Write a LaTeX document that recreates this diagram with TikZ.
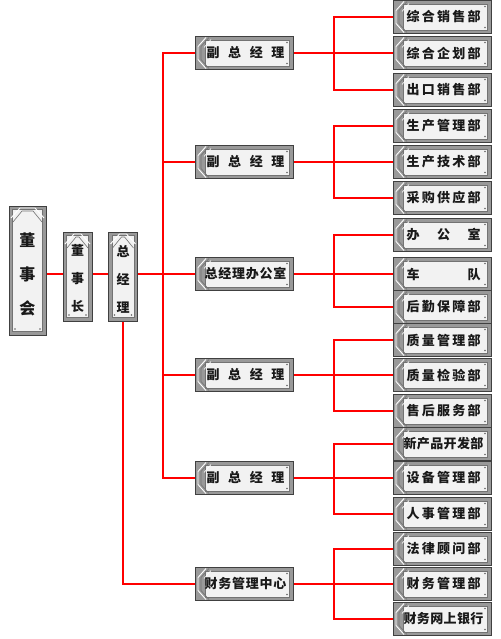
\documentclass[tikz,border=0pt]{standalone}
\usepackage{fontspec}
\newfontfamily\cjk{Noto Sans CJK SC}
\begin{document}
\begin{tikzpicture}[x=1pt,y=-1pt,
  conn/.style={draw=red, line width=2pt},
  plate/.style={draw=black!75, line width=1pt, fill=black!40, inner sep=0pt, text=black!90},
  hplate/.style={plate, minimum width=98pt, minimum height=33pt,
    font=\cjk\bfseries\fontsize{13}{14}\selectfont,
    path picture={
      \path (path picture bounding box.south west) coordinate (pa)
            (path picture bounding box.north east) coordinate (pb);
      \path (pa |- pb) coordinate (ptl) (pb |- pa) coordinate (pbr);
      \fill[black!5, draw=black!55, line width=0.6pt] ([shift={(10pt,3.5pt)}]pa) rectangle ([shift={(-3.5pt,-3.5pt)}]pb);
      \draw[white, line width=0.9pt] ([shift={(11pt,-1pt)}]ptl) -- ([shift={(3pt,-10pt)}]ptl) -- ([shift={(3pt,10pt)}]pa) -- ([shift={(11pt,1pt)}]pa);
      \draw[black!55, line width=0.6pt] ([shift={(14pt,-1pt)}]ptl) -- ([shift={(6pt,-10pt)}]ptl) -- ([shift={(6pt,10pt)}]pa) -- ([shift={(14pt,1pt)}]pa);
      \draw[white, line width=0.6pt] ([shift={(16pt,-3pt)}]ptl) -- ([shift={(9pt,-11pt)}]ptl);
      \fill[black!60] ([shift={(-6pt,-6pt)}]pb) circle (0.9pt);
      \fill[black!60] ([shift={(-6pt,6pt)}]pbr) circle (0.9pt);
    }},
  vplate/.style={plate,
    path picture={
      \path (path picture bounding box.south west) coordinate (pa)
            (path picture bounding box.north east) coordinate (pb);
      \path (pa |- pb) coordinate (ptl) (pb |- pa) coordinate (pbr);
      \fill[black!5, draw=black!55, line width=0.6pt] ([shift={(3.5pt,3.5pt)}]pa) rectangle ([shift={(-3.5pt,-3.5pt)}]pb);
      \draw[white, line width=0.9pt] ([shift={(2pt,-12pt)}]ptl) -- ([shift={(11pt,-2pt)}]ptl) -- ([shift={(-11pt,-2pt)}]pb) -- ([shift={(-2pt,-12pt)}]pb);
      \draw[black!55, line width=0.6pt] ([shift={(4pt,-16pt)}]ptl) -- ([shift={(13pt,-5pt)}]ptl) -- ([shift={(-13pt,-5pt)}]pb) -- ([shift={(-4pt,-16pt)}]pb);
      \fill[black!60] ([shift={(6pt,6pt)}]pa) circle (0.9pt);
      \fill[black!60] ([shift={(-6pt,6pt)}]pbr) circle (0.9pt);
    }}]
\fill[white] (0,0) rectangle (500,639);
\useasboundingbox (0,0) rectangle (500,639);

\coordinate (tx) at (163,0);
\coordinate (bx) at (334,0);

% vertical boxes
\node[vplate, minimum width=37pt, minimum height=129pt, align=center,
      font=\cjk\bfseries\fontsize{16}{34}\selectfont] (dsh) at (27.5,270.5) {\rule{0pt}{22pt}董\\事\\会};
\node[vplate, minimum width=29pt, minimum height=89pt, align=center,
      font=\cjk\bfseries\fontsize{13}{28}\selectfont] (dsz) at (77.5,276.5) {\rule{0pt}{16pt}董\\事\\长};
\node[vplate, minimum width=29pt, minimum height=89pt, align=center,
      font=\cjk\bfseries\fontsize{13}{28}\selectfont] (zjl) at (123,276.5) {\rule{0pt}{16pt}总\\经\\理};

% middle boxes
\node[hplate] (m1) at (244,53) {\hspace*{3pt}\makebox[78pt][s]{副\hfill 总\hfill 经\hfill 理}};
\node[hplate] (m2) at (244,162) {\hspace*{3pt}\makebox[78pt][s]{副\hfill 总\hfill 经\hfill 理}};
\node[hplate] (m3) at (244,274) {\hspace*{3pt}\makebox[82pt][s]{总\hfill 经\hfill 理\hfill 办\hfill 公\hfill 室}};
\node[hplate] (m4) at (244,375) {\hspace*{3pt}\makebox[78pt][s]{副\hfill 总\hfill 经\hfill 理}};
\node[hplate] (m5) at (244,478) {\hspace*{3pt}\makebox[78pt][s]{副\hfill 总\hfill 经\hfill 理}};
\node[hplate] (m6) at (244,584) {\hspace*{3pt}\makebox[82pt][s]{财\hfill 务\hfill 管\hfill 理\hfill 中\hfill 心}};

% right boxes
\node[hplate] (c11) at (442,17) {\hspace*{3pt}\makebox[74pt][s]{综\hfill 合\hfill 销\hfill 售\hfill 部}};
\node[hplate] (c12) at (442,53) {\hspace*{3pt}\makebox[74pt][s]{综\hfill 合\hfill 企\hfill 划\hfill 部}};
\node[hplate] (c13) at (442,90) {\hspace*{3pt}\makebox[74pt][s]{出\hfill 口\hfill 销\hfill 售\hfill 部}};

\node[hplate] (c21) at (442,126) {\hspace*{3pt}\makebox[74pt][s]{生\hfill 产\hfill 管\hfill 理\hfill 部}};
\node[hplate] (c22) at (442,162) {\hspace*{3pt}\makebox[74pt][s]{生\hfill 产\hfill 技\hfill 术\hfill 部}};
\node[hplate] (c23) at (442,198) {\hspace*{3pt}\makebox[74pt][s]{采\hfill 购\hfill 供\hfill 应\hfill 部}};

\node[hplate] (c31) at (442,235) {\hspace*{3pt}\makebox[74pt][s]{办\hfill 公\hfill 室}};
\node[hplate] (c32) at (442,274) {\hspace*{3pt}\makebox[74pt][s]{车\hfill 队}};
\node[hplate] (c33) at (442,307) {\hspace*{3pt}\makebox[74pt][s]{后\hfill 勤\hfill 保\hfill 障\hfill 部}};

\node[hplate] (c41) at (442,340) {\hspace*{3pt}\makebox[74pt][s]{质\hfill 量\hfill 管\hfill 理\hfill 部}};
\node[hplate] (c42) at (442,375) {\hspace*{3pt}\makebox[74pt][s]{质\hfill 量\hfill 检\hfill 验\hfill 部}};
\node[hplate] (c43) at (442,411) {\hspace*{3pt}\makebox[74pt][s]{售\hfill 后\hfill 服\hfill 务\hfill 部}};

\node[hplate] (c51) at (442,444) {\hspace*{3pt}\makebox[80pt][s]{新\hfill 产\hfill 品\hfill 开\hfill 发\hfill 部}};
\node[hplate] (c52) at (442,478) {\hspace*{3pt}\makebox[74pt][s]{设\hfill 备\hfill 管\hfill 理\hfill 部}};
\node[hplate] (c53) at (442,514) {\hspace*{3pt}\makebox[74pt][s]{人\hfill 事\hfill 管\hfill 理\hfill 部}};

\node[hplate] (c61) at (442,549) {\hspace*{3pt}\makebox[74pt][s]{法\hfill 律\hfill 顾\hfill 问\hfill 部}};
\node[hplate] (c62) at (442,584) {\hspace*{3pt}\makebox[74pt][s]{财\hfill 务\hfill 管\hfill 理\hfill 部}};
\node[hplate] (c63) at (442,619) {\hspace*{3pt}\makebox[80pt][s]{财\hfill 务\hfill 网\hfill 上\hfill 银\hfill 行}};

% connectors, left part
\draw[conn] (dsh.east |- m3.west) -- (dsz.west |- m3.west);
\draw[conn] (dsz.east |- m3.west) -- (zjl.west |- m3.west);
\draw[conn] (zjl.east |- m3.west) -- (m3.west);
\draw[conn] (m1.west) -- (m1.west -| tx) -- (m5.west -| tx) -- (m5.west);
\draw[conn] (m2.west) -- (m2.west -| tx);
\draw[conn] (m4.west) -- (m4.west -| tx);
\draw[conn] (zjl.south) |- (m6.west);

% connectors, right part
\foreach \m/\a/\b/\c in {m1/c11/c12/c13, m2/c21/c22/c23, m3/c31/c32/c33, m4/c41/c42/c43, m5/c51/c52/c53, m6/c61/c62/c63}{
  \draw[conn] (\m.east) -- (\m.east -| bx);
  \draw[conn] (\a.west) -- (\a.west -| bx) -- (\c.west -| bx) -- (\c.west);
  \draw[conn] (\b.west) -- (\b.west -| bx);
}
\end{tikzpicture}
\end{document}
